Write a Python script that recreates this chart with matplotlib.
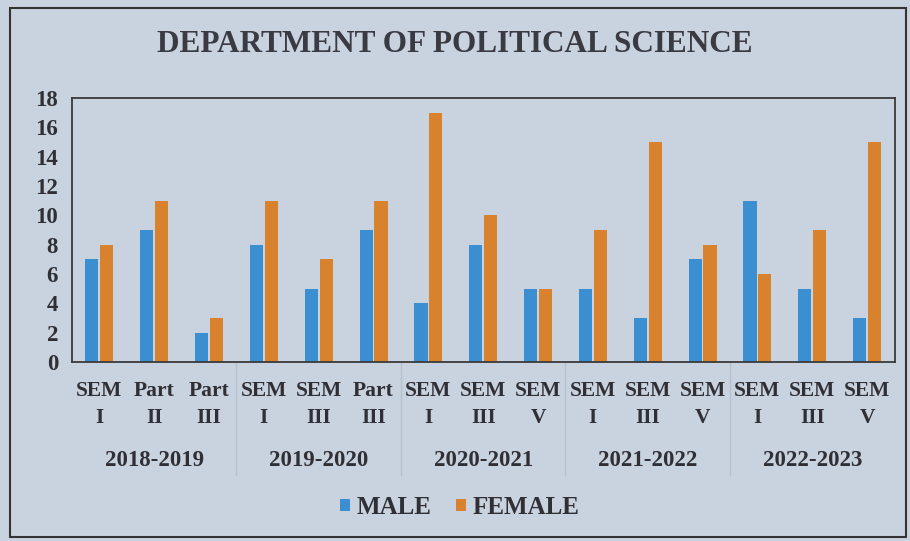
import matplotlib.pyplot as plt
from matplotlib.patches import Rectangle
from matplotlib.transforms import blended_transform_factory

# data
sem_labels = ["SEM\nI", "Part\nII", "Part\nIII",
              "SEM\nI", "SEM\nIII", "Part\nIII",
              "SEM\nI", "SEM\nIII", "SEM\nV",
              "SEM\nI", "SEM\nIII", "SEM\nV",
              "SEM\nI", "SEM\nIII", "SEM\nV"]
years = ["2018-2019", "2019-2020", "2020-2021", "2021-2022", "2022-2023"]
per_year = [3, 3, 3, 3, 3]
male = [7, 9, 2, 8, 5, 9, 4, 8, 5, 5, 3, 7, 11, 5, 3]
female = [8, 11, 3, 11, 7, 11, 17, 10, 5, 9, 15, 8, 6, 9, 15]

bg = "#c9d2df"
txt = "#2f2f35"
plt.rcParams['font.family'] = ['Liberation Serif', 'DejaVu Serif']
plt.rcParams['font.weight'] = 'bold'

fig = plt.figure(figsize=(9.1, 5.41), dpi=100, facecolor=bg)
fig.patches.append(Rectangle((0.011, 0.008), 0.985, 0.978, transform=fig.transFigure,
                             fill=False, edgecolor="#333333", linewidth=1.5))
ax = fig.add_axes([0.079, 0.331, 0.904, 0.488])
ax.set_facecolor(bg)

x = list(range(len(male)))
w = 0.24
ax.bar([i - 0.135 for i in x], male, width=w, color="#3b8ed0", label="MALE")
ax.bar([i + 0.135 for i in x], female, width=w, color="#d8822e", label="FEMALE")

ax.set_xlim(-0.5, len(male) - 0.5)
ax.set_ylim(0, 18)
ax.set_yticks(range(0, 19, 2))
ax.set_xticks(x)
ax.set_xticklabels(sem_labels, fontsize=15.5, color=txt, linespacing=1.45)
ax.tick_params(axis='y', labelsize=16.5, labelcolor=txt, length=0, pad=10)
ax.tick_params(axis='x', length=0, pad=14)
for s in ax.spines.values():
    s.set_color("#3a3a3a")
    s.set_linewidth(1.3)

# year groups under the semester labels
tr = blended_transform_factory(ax.transData, ax.transAxes)
start = 0
for yr, n in zip(years, per_year):
    ax.text(start + (n - 1) / 2, -0.375, yr, transform=tr, ha='center', va='center',
            fontsize=16.5, color=txt)
    if start > 0:
        ax.plot([start - 0.5, start - 0.5], [0, -0.43], transform=tr, color="#b8c0cc",
                linewidth=1, clip_on=False)
    start += n

fig.text(0.5, 0.917, "DEPARTMENT OF POLITICAL SCIENCE", ha='center', va='center',
         fontsize=22.5, color="#3a3a42")

fig.legend(loc='center', bbox_to_anchor=(0.505, 0.062), ncol=2, frameon=False,
           fontsize=18, handlelength=0.4, handleheight=0.4, handletextpad=0.25,
           columnspacing=1.0, labelcolor=txt)

fig.savefig("out.png", dpi=100, facecolor=bg)
